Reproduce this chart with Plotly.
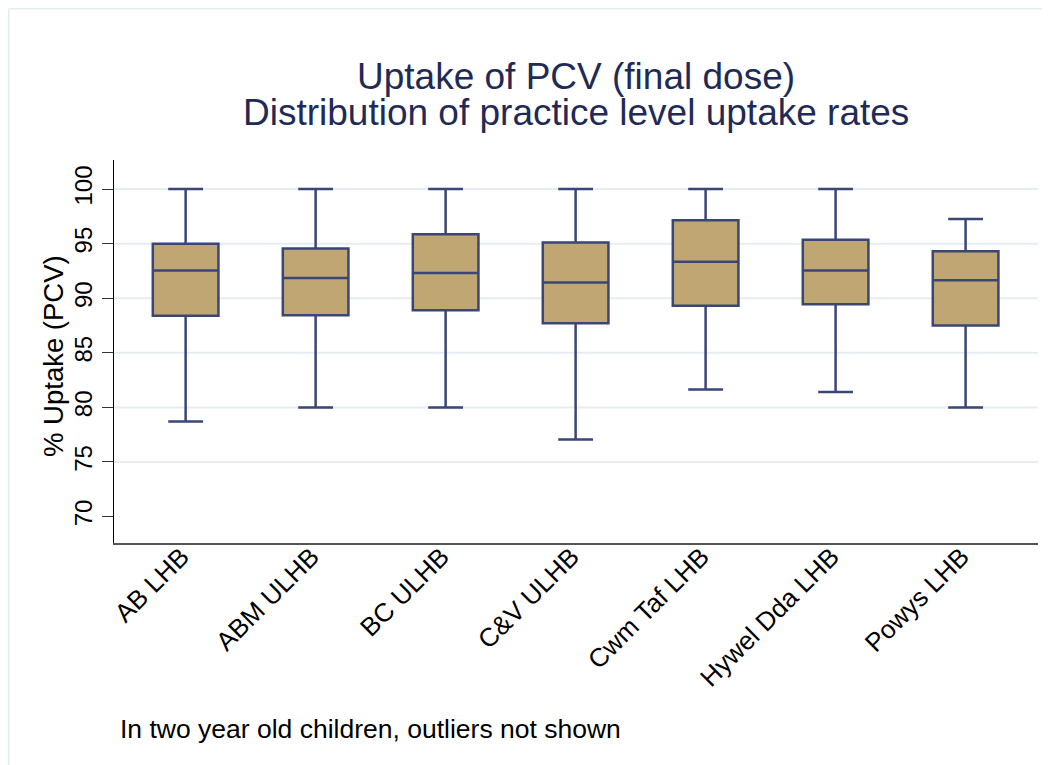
import plotly.graph_objects as go

categories = ["AB LHB", "ABM ULHB", "BC ULHB", "C&V ULHB", "Cwm Taf LHB", "Hywel Dda LHB", "Powys LHB"]
lower_whisker = [78.7, 80.0, 80.0, 77.05, 81.65, 81.4, 80.0]
q1 = [88.4, 88.45, 88.9, 87.7, 89.3, 89.45, 87.5]
median = [92.55, 91.85, 92.3, 91.45, 93.35, 92.55, 91.65]
q3 = [95.0, 94.55, 95.85, 95.1, 97.15, 95.35, 94.3]
upper_whisker = [100.0, 100.0, 100.0, 100.0, 100.0, 100.0, 97.25]
y_ticks = [70, 75, 80, 85, 90, 95, 100]
grid_values = [75, 80, 85, 90, 95, 100]

FONT = "Liberation Sans, Arial, Helvetica, sans-serif"
NAVY = "#3a4675"
FILL = "#bfa673"
TITLE_COLOR = "#1f2b56"
GRID = "#e6edf1"

# page is offset by the 8px body margin; figure sized to fit the window
W, H = 1042, 757
ML, MR, MT, MB = 106, 12, 152, 222
PW, PH = W - ML - MR, H - MT - MB  # 924 x 383


def px(xf):
    return (xf - ML) / PW


def py(yf):
    return (MT + PH - yf) / PH


positions = list(range(len(categories)))

fig = go.Figure()
fig.add_trace(go.Box(
    x=positions,
    q1=q1, median=median, q3=q3,
    lowerfence=lower_whisker, upperfence=upper_whisker,
    fillcolor=FILL,
    line=dict(color=NAVY, width=2.5),
    width=0.505,
    whiskerwidth=0.53,
    boxpoints=False,
    hoverinfo="y",
    showlegend=False,
))

shapes = []
for g in grid_values:
    shapes.append(dict(type="line", xref="paper", x0=0, x1=1, yref="y", y0=g, y1=g,
                       line=dict(color=GRID, width=2), layer="below"))

# faint outer frame (top and left edges)
shapes.append(dict(type="line", xref="paper", yref="paper",
                   x0=px(0.75), x1=px(W), y0=py(0.75), y1=py(0.75),
                   line=dict(color="#e3ecee", width=1.5)))
shapes.append(dict(type="line", xref="paper", yref="paper",
                   x0=px(0.75), x1=px(0.75), y0=py(0.75), y1=py(H),
                   line=dict(color="#e3ecee", width=1.5)))

annotations = [
    dict(text="Uptake of PCV (final dose)", xref="paper", yref="paper",
         x=0.5, y=py(77 - 8), xanchor="center", yanchor="middle",
         showarrow=False, font=dict(family=FONT, size=37, color=TITLE_COLOR)),
    dict(text="Distribution of practice level uptake rates", xref="paper", yref="paper",
         x=0.5, y=py(113 - 8), xanchor="center", yanchor="middle",
         showarrow=False, font=dict(family=FONT, size=37, color=TITLE_COLOR)),
    dict(text="% Uptake (PCV)", xref="paper", yref="paper",
         x=px(53 - 8), y=py(356 - 8), xanchor="center", yanchor="middle",
         textangle=-90, showarrow=False, font=dict(family=FONT, size=27.5, color="black")),
    dict(text="In two year old children, outliers not shown", xref="paper", yref="paper",
         x=px(118 - 8), y=py(729 - 8), xanchor="left", yanchor="middle",
         showarrow=False, font=dict(family=FONT, size=26.5, color="black")),
]

fig.update_layout(
    width=W, height=H,
    margin=dict(l=ML, r=MR, t=MT, b=MB, autoexpand=False),
    paper_bgcolor="white", plot_bgcolor="white",
    font=dict(family=FONT, color="black"),
    shapes=shapes,
    annotations=annotations,
    xaxis=dict(
        range=[-0.551, 6.557],
        tickmode="array", tickvals=positions, ticktext=categories,
        tickangle=-45, tickfont=dict(family=FONT, size=26, color="black"),
        ticklabelstandoff=-14, ticklabelshift=-4,
        showgrid=False, zeroline=False, ticks="",
        showline=True, linecolor="#555555", linewidth=2,
        automargin=False, fixedrange=True,
    ),
    yaxis=dict(
        range=[67.58, 102.66],
        tickmode="array", tickvals=y_ticks,
        tickangle=-90, tickfont=dict(family=FONT, size=24, color="black"),
        showgrid=False, zeroline=False,
        ticks="outside", ticklen=11, tickcolor="#333333", tickwidth=1.2,
        showline=True, linecolor="black", linewidth=1.2,
        automargin=False, fixedrange=True,
    ),
)

fig.write_html("out.html")
